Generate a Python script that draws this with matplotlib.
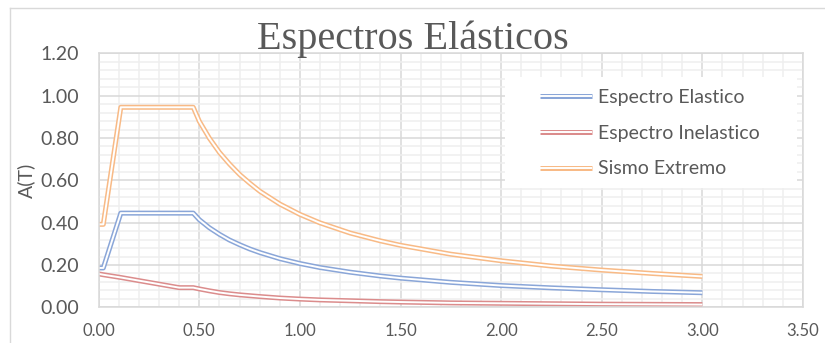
import matplotlib
matplotlib.use("Agg")
import matplotlib.pyplot as plt
import matplotlib.patheffects as pe
from matplotlib.ticker import MultipleLocator
from matplotlib.lines import Line2D
from matplotlib.patches import Rectangle

# --- Periodos (s) ---
T = [0.00, 0.023, 0.11, 0.40, 0.47, 0.50, 0.55, 0.60, 0.65, 0.70, 0.75, 0.80,
     0.90, 1.00, 1.10, 1.25, 1.40, 1.50, 1.75, 2.00, 2.25, 2.50, 2.75, 3.00]

# --- Aceleraciones espectrales A(T) ---
elastico = [0.186, 0.186, 0.445, 0.445, 0.445, 0.414, 0.376, 0.345, 0.318, 0.296,
            0.276, 0.259, 0.230, 0.207, 0.188, 0.166, 0.148, 0.138, 0.118, 0.103,
            0.092, 0.083, 0.075, 0.069]
inelastico = [0.158, 0.154, 0.141, 0.093, 0.093, 0.087, 0.078, 0.070, 0.064, 0.059,
              0.055, 0.051, 0.044, 0.039, 0.035, 0.031, 0.027, 0.025, 0.021, 0.019,
              0.017, 0.015, 0.014, 0.013]
extremo = [0.392, 0.392, 0.945, 0.945, 0.945, 0.879, 0.799, 0.732, 0.677, 0.628,
           0.587, 0.549, 0.488, 0.439, 0.399, 0.351, 0.314, 0.293, 0.251, 0.220,
           0.195, 0.176, 0.160, 0.146]

series = [
    ("Espectro Elastico", elastico, "#8AA6D8"),
    ("Espectro Inelastico", inelastico, "#DB8C8C"),
    ("Sismo Extremo", extremo, "#F8BA86"),
]

gray = "#595959"
fnt = "Lato"

fig = plt.figure(figsize=(8.25, 3.43), dpi=100)
ax = fig.add_axes([0.1196, 0.104, 0.8537, 0.7406])

# linea doble estilo Excel: trazo grueso de color con trazo blanco encima
for name, vals, col in series:
    ax.plot(T, vals, color="white", lw=1.4, label=name, solid_capstyle="butt",
            path_effects=[pe.Stroke(linewidth=3.6, foreground=col), pe.Normal()])

ax.set_xlim(0, 3.5)
ax.set_ylim(0, 1.2)
ax.xaxis.set_major_locator(MultipleLocator(0.5))
ax.xaxis.set_minor_locator(MultipleLocator(0.1))
ax.yaxis.set_major_locator(MultipleLocator(0.2))
ax.yaxis.set_minor_locator(MultipleLocator(0.04))
ax.grid(which="major", color="#D9D9D9", lw=1.1)
ax.grid(which="minor", color="#EFEFEF", lw=1.1)
ax.set_axisbelow(True)
ax.tick_params(which="both", length=0, labelcolor=gray)
ax.tick_params(axis="x", labelsize=12, pad=11)
ax.tick_params(axis="y", labelsize=14, pad=14)
ax.xaxis.set_major_formatter(plt.FuncFormatter(lambda v, p: f"{v:.2f}"))
ax.yaxis.set_major_formatter(plt.FuncFormatter(lambda v, p: f"{v:.2f}"))
for lbl in ax.get_xticklabels() + ax.get_yticklabels():
    lbl.set_fontfamily(fnt)
for s in ax.spines.values():
    s.set_color("#D9D9D9")
    s.set_linewidth(1.1)

ax.set_ylabel("A(T)", fontsize=14, color=gray, fontfamily=fnt, labelpad=4)

fig.text(0.5006, 0.858, "Espectros Elásticos", ha="center", va="baseline",
         fontsize=29, color=gray, fontfamily="Liberation Serif")

# recuadro blanco de la leyenda sobre la cuadricula
ax.add_patch(Rectangle((0.577, 0.470), 0.4145, 0.437, transform=ax.transAxes,
                       facecolor="white", edgecolor="none", zorder=1.5))
leg = ax.legend(loc="upper left", bbox_to_anchor=(0.6266, 0.859), frameon=False,
                prop={"family": fnt, "size": 14}, handlelength=2.67,
                handletextpad=0.31, labelspacing=0.96, borderpad=0,
                borderaxespad=0)
for t in leg.get_texts():
    t.set_color(gray)

# borde del area del grafico
fig.add_artist(Line2D([10 / 825, 10 / 825], [0, 1 - 8 / 343], color="#D9D9D9", lw=1.0))
fig.add_artist(Line2D([10 / 825, 1], [1 - 8 / 343, 1 - 8 / 343], color="#D9D9D9", lw=1.0))

fig.savefig("out.png", dpi=100)
